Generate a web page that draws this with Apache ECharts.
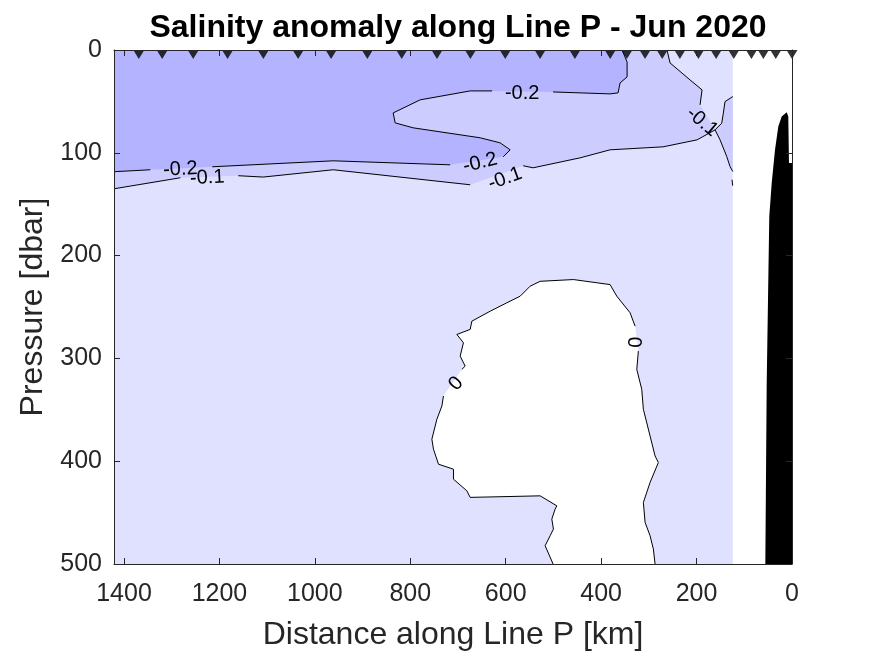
<!DOCTYPE html>
<html><head><meta charset="utf-8">
<script src="https://cdn.jsdelivr.net/npm/echarts@6/dist/echarts.min.js"></script>
<style>html,body{margin:0;padding:0;background:#fff}#c{width:875px;height:656px}</style>
</head><body><div id="c"></div>
<script>
// ---- data (distance along Line P [km], pressure [dbar]) ----
const xTicks = [0, 200, 400, 600, 800, 1000, 1200, 1400];
const yTicks = [0, 100, 200, 300, 400, 500];
const stationKm = [1369,1320,1255,1183,1108,1035,966,890,818,744,674,601,528,455,381,346,308,272,235,196,159,122,85,60,34,0];

// filled regions
const lightRegion = [[1421,0],[124.1,0],[124.1,500],[1421,500]];            // -0.1 .. 0
const midRegion = [[1421,0],[261.9,0],[255.6,12.6],[213.7,29.1],[188.5,38.8],[192.7,53.4],[161.3,77.7],
  [199.0,87.4],[270.2,94.2],[381.3,97.1],[444.1,104.9],[542.6,114.6],[563.5,112.6],[674.5,131.1],
  [961.5,116.5],[1108.2,123.6],[1160.5,122.3],[1282,124.3],[1421,135.0]];        // -0.2 .. -0.1
const midPatch = [[124.1,45.3],[140.4,50.2],[143.9,61.5],[147.3,71.2],[161.3,77.7],[150.8,87.4],
  [136.8,103.6],[129.9,113.3],[124.1,118.2]];
const darkRegion = [[1421,0],[356.1,0],[345.6,11.7],[345.6,26.2],[360.3,32.0],[364.5,41.7],[381.3,42.7],
  [500.7,40.8],[628.5,39.8],[674.5,39.8],[779.3,48.5],[835.9,61.2],[831.7,70.9],[794.0,75.7],[653.6,85.4],
  [611.7,90.3],[590.7,97.1],[605.4,103.9],[716.4,111.7],[961.5,107.8],[1215.0,113.6],[1344.9,116.5],[1421,118.4]]; // < -0.2
const zeroLeft = [[500.7,500],[517.4,482.2],[506.9,472.5],[500.0,466.0],[503.4,456.3],[496.5,446.6],[492.9,443.4],
  [527.9,433.7],[674.5,435.2],[681.5,428.8],[709.5,417.5],[709.5,407.8],[740.9,402.9],[751.4,388.3],[754.8,378.6],
  [744.3,359.2],[733.8,346.3],[730.5,336.6]];
const zeroTop = [[691.9,310.7],[685.0,307.5],[695.5,297.8],[688.6,284.8],[702.4,276.7],[674.5,271.8],[671.0,263.8],
  [632.6,254.1],[597.7,245.9],[569.8,239.5],[548.9,229.8],[527.9,225.0],[458.1,223.3],[381.3,228.2],[367.2,239.5],
  [339.4,255.6],[328.9,268.6]];
const zeroRight = [[322.0,292.9],[325.3,310.7],[314.9,330.1],[311.5,349.5],[297.5,375.4],[287.0,394.9],[280.1,401.3],
  [297.5,420.7],[311.5,440.1],[307.9,459.5],[297.5,472.5],[290.6,485.4],[287.0,500]];
const bathymetry = [[55.9,500],[53.0,323.6],[47.6,161.8],[42.5,129.4],[35.6,97.1],[28.7,74.5],[21.6,64.8],
  [11.1,60.5],[7.8,64.8],[6.3,110.0],[0,110.0],[0,500]];

// contour lines (split where labels sit)
const contourLines = [
  [[356.1,0],[345.6,11.7],[345.6,26.2],[360.3,32.0],[364.5,41.7],[381.3,42.7],[500.7,40.8]],
  [[628.5,39.8],[674.5,39.8],[779.3,48.5],[835.9,61.2],[831.7,70.9],[794.0,75.7],[653.6,85.4],[611.7,90.3],[590.7,97.1],[605.4,103.9]],
  [[716.4,111.7],[961.5,107.8],[1215.0,113.6]],
  [[1344.9,116.5],[1421,118.4]],
  [[1421,135.0],[1282,124.3]],
  [[1160.5,122.3],[1108.2,123.6],[961.5,116.5],[674.5,131.1]],
  [[563.5,112.6],[542.6,114.6],[444.1,104.9],[381.3,97.1],[270.2,94.2],[199.0,87.4],[161.3,77.7]],
  [[192.7,53.4],[188.5,38.8],[213.7,29.1],[255.6,12.6],[261.9,0]],
  [[124.1,45.3],[140.4,50.2],[143.9,61.5],[147.3,71.2],[161.3,77.7],[150.8,87.4],[136.8,103.6],[129.9,113.3],[124.1,118.2]],
  [[125.7,126.2],[124.3,132]],
  zeroLeft, zeroTop, zeroRight
];

// contour labels
const labelText = ['-0.2','-0.2','-0.1','-0.2','-0.1','-0.1','0','0'];
const labelKm   = [565.6, 1282, 1225.5, 653.6, 601.2, 188.5, 703.9, 326.8];
const labelDbar = [42.2, 116.0, 124.3, 109.7, 125.2, 69.9, 324.6, 284.2];
const labelRot  = [0, 3, 3, 14, 20, -40, 48, 90];

const FONT = "'Liberation Sans', Arial, Helvetica, sans-serif";
const AX = '#262626';

function polySeries(pts, color) {
  return {
    type: 'custom', coordinateSystem: 'cartesian2d', xAxisIndex: 0, yAxisIndex: 0,
    silent: true, clip: true, data: [pts[0]],
    renderItem: function (params, api) {
      return { type: 'polygon', shape: { points: pts.map(p => api.coord(p)) },
               style: { fill: color, stroke: null } };
    }
  };
}

const series = [
  polySeries(lightRegion, '#e0e0ff'),
  polySeries(midRegion, '#ccccff'),
  polySeries(midPatch, '#ccccff'),
  polySeries(darkRegion, '#b3b3ff'),
  polySeries(zeroLeft.concat(zeroTop, zeroRight), '#ffffff'),
  polySeries(bathymetry, '#000000')
];
contourLines.forEach(function (seg) {
  series.push({ type: 'line', data: seg, showSymbol: false, symbol: 'none', silent: true,
    lineStyle: { color: '#000', width: 1 }, z: 3 });
});
series.push({
  type: 'custom', silent: true, z: 4,
  data: labelText.map((t, i) => [labelKm[i], labelDbar[i], labelRot[i]]),
  renderItem: function (params, api) {
    const p = api.coord([api.value(0), api.value(1)]);
    return { type: 'text', x: p[0], y: p[1], rotation: api.value(2) * Math.PI / 180,
      style: { text: labelText[params.dataIndex], fontSize: 20, fontFamily: FONT, fill: '#000',
               align: 'center', verticalAlign: 'middle' } };
  }
});
series.push({
  type: 'scatter', silent: true, clip: false, z: 6,
  data: stationKm.map(k => [k, 0]),
  symbol: 'path://M0,0 L10,0 L5,8 Z', symbolSize: [11, 9], symbolOffset: [0, 4.5],
  itemStyle: { color: '#000' }
});

const chart = echarts.init(document.getElementById('c'), null, { renderer: 'canvas' });
const baseX = {
  type: 'value', min: 0, max: 1421, inverse: true, interval: 200, z: 10,
  axisLine: { show: true, onZero: false, lineStyle: { color: AX, width: 1 } },
  axisTick: { show: true, inside: true, length: 6, lineStyle: { color: AX } },
  splitLine: { show: false }
};
const baseY = {
  type: 'value', min: 0, max: 500, inverse: true, interval: 100, z: 10,
  axisLine: { show: true, onZero: false, lineStyle: { color: AX, width: 1 } },
  axisTick: { show: true, inside: true, length: 6, lineStyle: { color: AX } },
  splitLine: { show: false }
};
chart.setOption({
  animation: false,
  backgroundColor: '#fff',
  title: { text: 'Salinity anomaly along Line P - Jun 2020', left: 453, textAlign: 'center', top: 7,
    textStyle: { fontFamily: FONT, fontSize: 32, fontWeight: 'bold', color: '#000' } },
  grid: { left: 114, right: 83, top: 50, bottom: 91, containLabel: false },
  xAxis: [
    Object.assign({}, baseX, { position: 'bottom',
      name: 'Distance along Line P [km]', nameLocation: 'middle', nameGap: 55,
      nameTextStyle: { fontFamily: FONT, fontSize: 32, color: AX },
      axisLabel: { show: true, margin: 18, fontFamily: FONT, fontSize: 25, color: AX,
        formatter: v => (xTicks.indexOf(v) >= 0 ? String(v) : '') } }),
    Object.assign({}, baseX, { position: 'top', axisLabel: { show: false } })
  ],
  yAxis: [
    Object.assign({}, baseY, { position: 'left',
      name: 'Pressure [dbar]', nameLocation: 'middle', nameGap: 63,
      nameTextStyle: { fontFamily: FONT, fontSize: 32, color: AX },
      axisLabel: { show: true, margin: 12, fontFamily: FONT, fontSize: 25, color: AX,
        formatter: v => (yTicks.indexOf(v) >= 0 ? String(v) : '') } }),
    Object.assign({}, baseY, { position: 'right', axisLabel: { show: false } })
  ],
  series: series
});
</script></body></html>
